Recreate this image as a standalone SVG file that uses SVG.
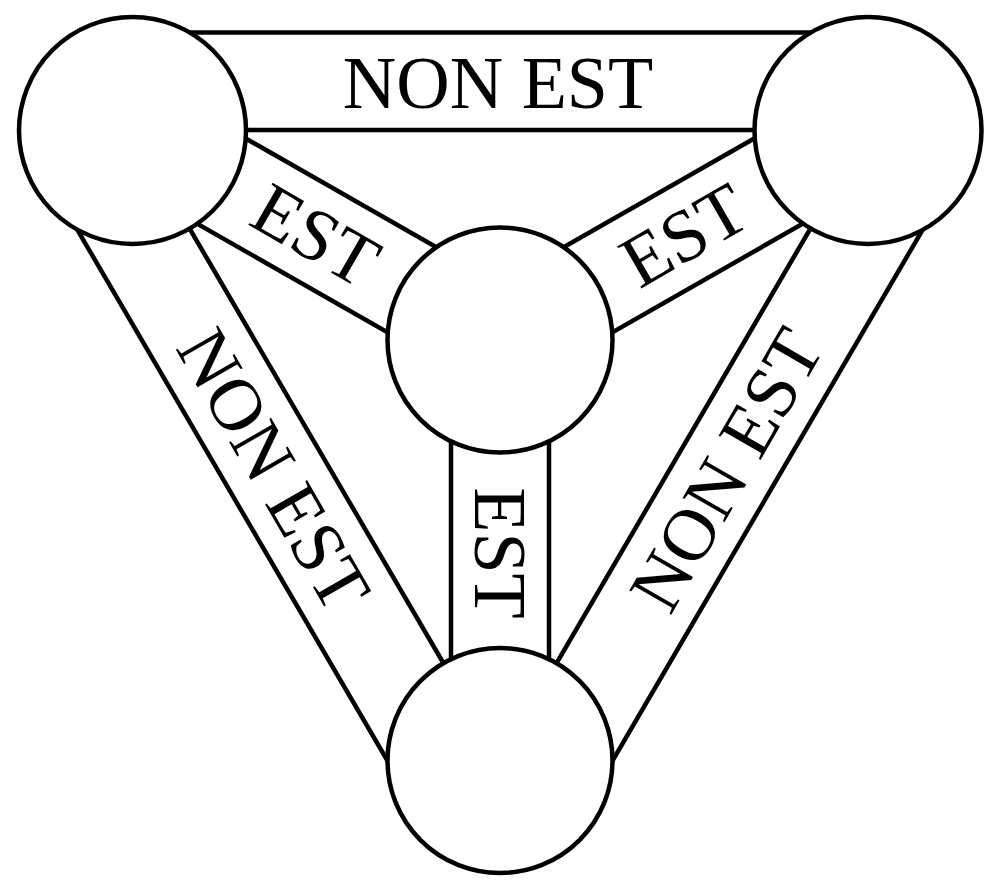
<svg xmlns="http://www.w3.org/2000/svg" width="1000" height="892" viewBox="0 0 1000 892">
<style>
.band{stroke:#000;stroke-width:4.5;fill:none;stroke-linecap:butt}
.node{fill:#fff;stroke:#000;stroke-width:4.5}
.lbl{font-family:"Liberation Serif","Times New Roman",serif;font-size:74px;fill:#000;text-anchor:middle}
</style>
<rect x="0" y="0" width="1000" height="892" fill="#fff"/>
<g id="connectors">
<g id="band-top">
<line class="band" x1="132" y1="32.5" x2="868" y2="32.5"/>
<line class="band" x1="132" y1="130" x2="868" y2="130"/>
</g>
<g id="band-left">
<line class="band" x1="132" y1="130" x2="500" y2="760"/>
<line class="band" x1="47.8" y1="179.2" x2="415.8" y2="809.2"/>
</g>
<g id="band-right">
<line class="band" x1="868" y1="130" x2="500" y2="760"/>
<line class="band" x1="952.2" y1="179.2" x2="584.2" y2="809.2"/>
</g>
<g id="band-center-bottom">
<line class="band" x1="451" y1="340" x2="451" y2="760"/>
<line class="band" x1="549" y1="340" x2="549" y2="760"/>
</g>
<g id="band-center-left">
<line class="band" x1="156.3" y1="87.4" x2="524.3" y2="297.4"/>
<line class="band" x1="107.7" y1="172.6" x2="475.7" y2="382.6"/>
</g>
<g id="band-center-right">
<line class="band" x1="843.7" y1="87.4" x2="475.7" y2="297.4"/>
<line class="band" x1="892.3" y1="172.6" x2="524.3" y2="382.6"/>
</g>
<g id="labels">
<text class="lbl" transform="translate(498,81)" x="0" y="27">NON EST</text>
<text class="lbl" transform="translate(316,235) rotate(30)" x="0" y="25">EST</text>
<text class="lbl" transform="translate(684,235) rotate(-30)" x="0" y="25">EST</text>
<text class="lbl" transform="translate(500,553) rotate(90)" x="0" y="25">EST</text>
<text class="lbl" transform="translate(273.9,469.6) rotate(60)" x="0" y="25">NON EST</text>
<text class="lbl" transform="translate(726.1,469.6) rotate(-60)" x="0" y="25">NON EST</text>
</g>
</g>
<g id="node-top-left"><circle class="node" cx="132.5" cy="130.5" r="113.5"/></g>
<g id="node-top-right"><circle class="node" cx="868" cy="130.5" r="113.5"/></g>
<g id="node-center"><circle class="node" cx="500" cy="340" r="112.5"/></g>
<g id="node-bottom"><circle class="node" cx="500" cy="760.5" r="112.5"/></g>
</svg>
